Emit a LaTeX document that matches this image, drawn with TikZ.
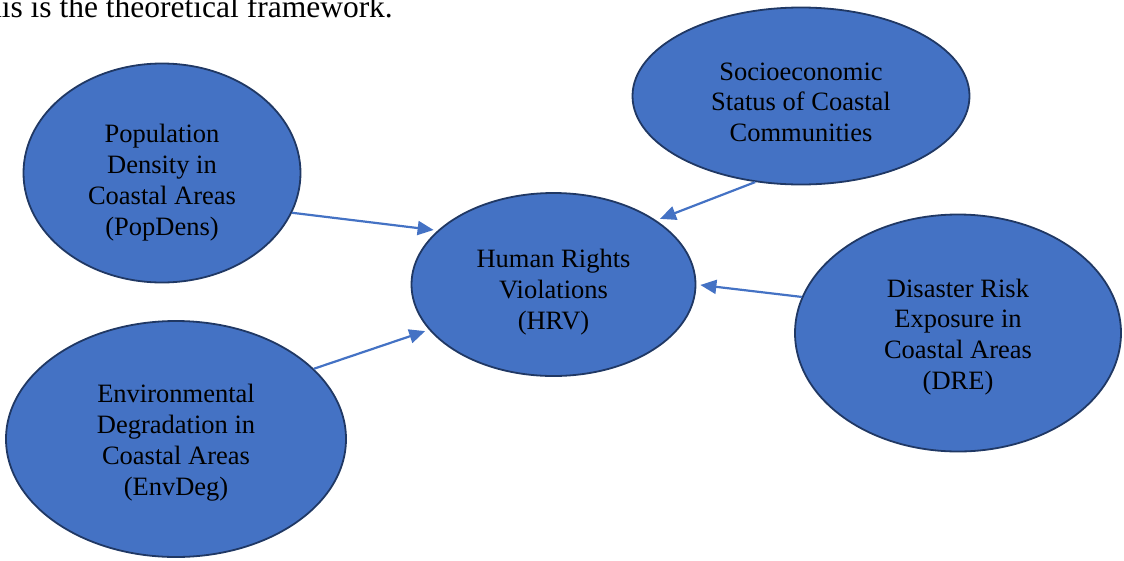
\documentclass[tikz,border=0pt]{standalone}
\usepackage{fontspec}
\setmainfont{Liberation Serif}
\usetikzlibrary{shapes.geometric,arrows.meta}
\definecolor{fillblue}{HTML}{4472C4}
\definecolor{edgeblue}{HTML}{203864}
\definecolor{arrowblue}{HTML}{4472C4}
\tikzset{
  blob/.style={ellipse, draw=edgeblue, fill=fillblue, line width=1.8pt, inner sep=0pt},
  lbl/.style={align=center, inner sep=0pt, text=black, font=\fontsize{26.5}{30.8}\selectfont},
  link/.style={draw=arrowblue, line width=2.2pt, -{Triangle[length=16pt,width=14pt]}, shorten >=4pt}
}
\begin{document}
\begin{tikzpicture}[x=1pt,y=-1pt]
\useasboundingbox (0,0) rectangle (1124,560);
\begin{scope}
  \clip (0,0) rectangle (1124,560);
  \node[anchor=base east, inner sep=0pt, font=\fontsize{31.5}{36}\selectfont] (intro) at (393,17) {This is the theoretical framework.};
\end{scope}

\node[blob, minimum width=277pt, minimum height=219pt] (pop) at (162,173) {};
\node[blob, minimum width=340pt, minimum height=236pt] (env) at (176,439) {};
\node[blob, minimum width=337pt, minimum height=177pt] (soc) at (801,96) {};
\node[blob, minimum width=326pt, minimum height=237pt] (dre) at (958,333) {};
\node[blob, minimum width=284pt, minimum height=183pt] (hrv) at (553.5,284.5) {};

\node[lbl] (popT) at (162,182.7) {Population\\Density in\\Coastal Areas\\(PopDens)};
\node[lbl] (envT) at (176,442.7) {Environmental\\Degradation in\\Coastal Areas\\(EnvDeg)};
\node[lbl] (socT) at (801,102.3) {Socioeconomic\\Status of Coastal\\Communities};
\node[lbl] (dreT) at (958,337) {Disaster Risk\\Exposure in\\Coastal Areas\\(DRE)};
\node[lbl] (hrvT) at (553.5,292) {Human Rights\\Violations\\(HRV)};

\draw[link] (pop.-17) -- (hrv.155.2);
\draw[link] (env.27.4) -- (hrv.-160.5);
\draw[link] (soc.-118.1) -- (hrv.32.5);
\draw[link] (dre.167.1) -- (hrv.0.8);
\end{tikzpicture}
\end{document}
